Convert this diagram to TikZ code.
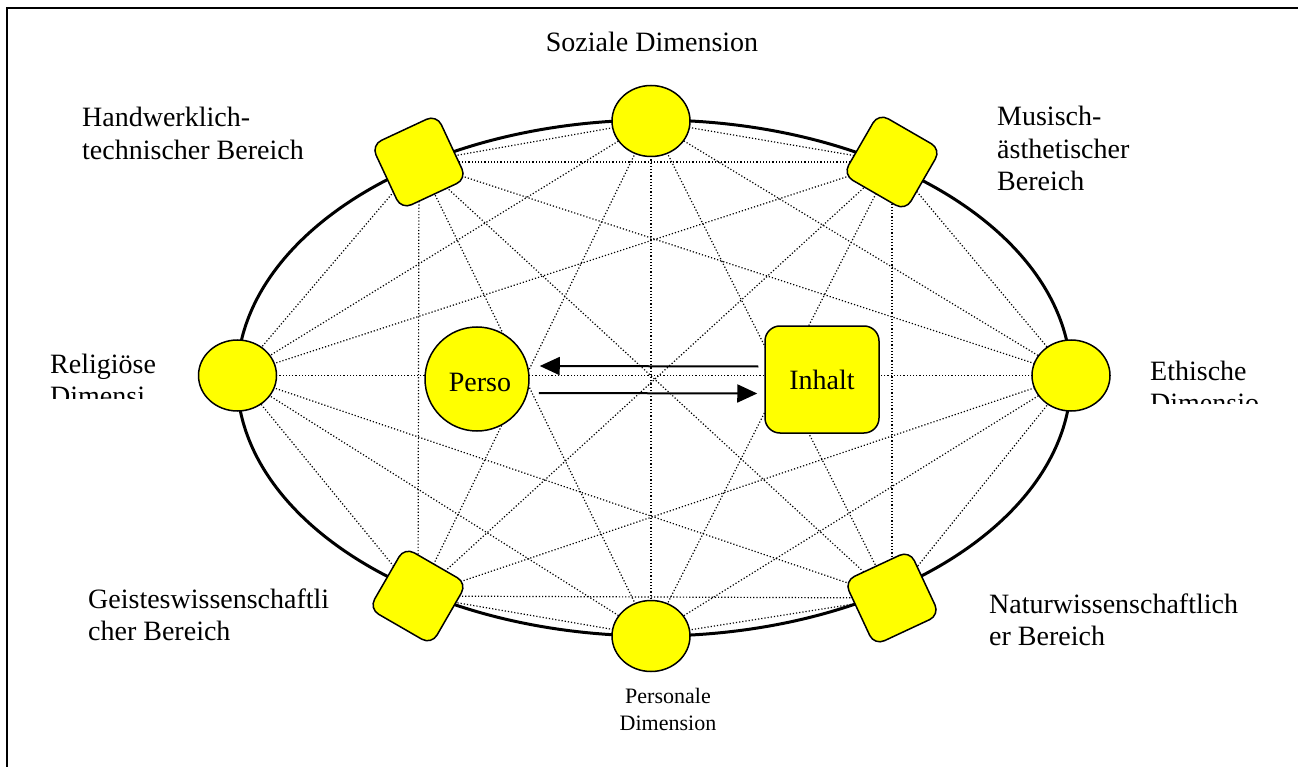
\documentclass[tikz,border=0pt]{standalone}
\usepackage{fontspec}
\setmainfont{Liberation Serif}
\usetikzlibrary{arrows.meta,shapes.geometric,backgrounds}
\definecolor{yel}{RGB}{255,255,0}
\begin{document}
\begin{tikzpicture}[x=1pt,y=-1pt,
  lbl/.style={inner sep=0pt, align=left, font=\fontsize{28}{32.5}\selectfont},
  circ/.style={ellipse, draw, line width=1.5pt, fill=yel, minimum width=78pt, minimum height=71pt, inner sep=0pt},
  sq/.style={rectangle, rounded corners=11pt, draw, line width=1.5pt, fill=yel, minimum width=72pt, minimum height=71pt, inner sep=0pt},
  link/.style={dotted, line width=1.2pt},
  arr/.style={line width=2pt, -{Triangle[length=20pt,width=18pt]}}]
\useasboundingbox (0,0) rectangle (1298,767);
% frame
\draw[line width=2pt] (7,767) -- (7,8) -- (1298,8);
% outer nodes
\node[circ] (soz) at (651,121) {};
\node[sq, rotate=-30] (mus) at (892,162) {};
\node[circ] (eth) at (1071,375.5) {};
\node[sq, rotate=25] (nat) at (892,598) {};
\node[circ] (per) at (651,636) {};
\node[sq, rotate=-30] (gei) at (418,596) {};
\node[circ] (rel) at (237.5,375.5) {};
\node[sq, rotate=25] (hand) at (419,162) {};
% inner nodes
\node[circle, draw, line width=1.5pt, fill=yel, minimum size=104pt, inner sep=0pt] (perso) at (477,379) {};
\node[rectangle, rounded corners=15pt, draw, line width=1.5pt, fill=yel, minimum width=114pt, minimum height=107pt, inner sep=0pt, font=\fontsize{28}{32.5}\selectfont] (inhalt) at (822,379.5) {Inhalt};
\begin{scope}
  \clip (420,330) rectangle (540,391);
  \node[lbl, anchor=base] (lperso) at (480,391) {Perso};
\end{scope}
% background: ellipse and dotted links
\begin{pgfonlayer}{background}
  \draw[line width=3pt] (654,378) ellipse [x radius=417pt, y radius=258pt];
  \foreach \a/\i in {soz/1,mus/2,eth/3,nat/4,per/5,gei/6,rel/7,hand/8}{
    \foreach \b/\j in {soz/1,mus/2,eth/3,nat/4,per/5,gei/6,rel/7,hand/8}{
      \ifnum\i<\j \draw[link] (\a.center) -- (\b.center); \fi
    }
  }
\end{pgfonlayer}
% arrows
\draw[arr] ([xshift=-6pt,yshift=13pt]inhalt.west) -- ([xshift=10pt,yshift=13pt]perso.east);
\draw[arr] ([xshift=9pt,yshift=-14pt]perso.east) -- ([xshift=-7pt,yshift=-14pt]inhalt.west);
% labels (base anchor = baseline of last line)
\node[lbl, anchor=base] (lsoz) at (652,52) {Soziale Dimension};
\node[lbl, anchor=base west] (lhand) at (82,159.5) {Handwerklich-\\technischer Bereich};
\node[lbl, anchor=base west] (lmus) at (997,191) {Musisch-\\ästhetischer\\Bereich};
\begin{scope}
  \clip (40,330) rectangle (195,398);
  \node[lbl, anchor=base west] (lrel) at (50,405.5) {Religiöse\\Dimensi};
\end{scope}
\begin{scope}
  \clip (1140,340) rectangle (1298,403);
  \node[lbl, anchor=base west] (leth) at (1150,412.5) {Ethische\\Dimensio};
\end{scope}
\node[lbl, anchor=base west] (lgei) at (88,640.5) {Geisteswissenschaftli\\cher Bereich};
\node[lbl, anchor=base west] (lnat) at (989,645.5) {Naturwissenschaftlich\\er Bereich};
\node[inner sep=0pt, align=center, font=\fontsize{22}{27}\selectfont, anchor=base] (lper) at (668,730) {Personale\\Dimension};
\end{tikzpicture}
\end{document}
